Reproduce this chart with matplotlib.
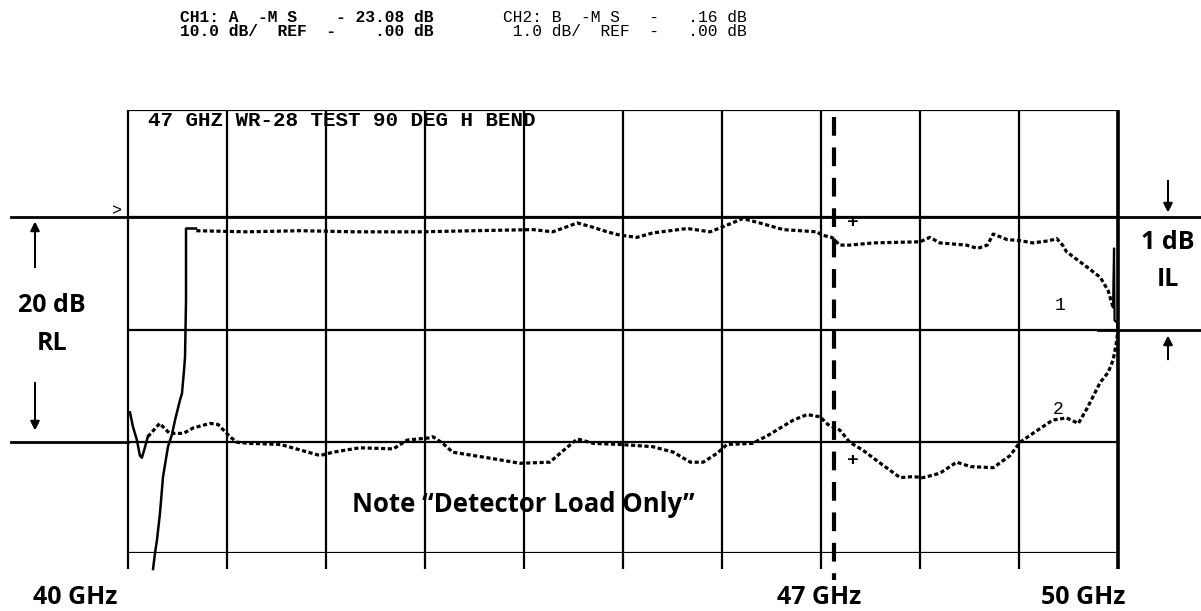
import numpy as np
import matplotlib.pyplot as plt

# frequency axis (GHz) and screen divisions counted up from the bottom graticule line
f_start = 40
f_stop = 50

# trace 1: steep rise at the band edge (solid part)
t1_rise_f = [40.253, 40.273, 40.293, 40.323, 40.354, 40.404, 40.444, 40.475,
             40.525, 40.545, 40.566, 40.576, 40.586, 40.586, 40.586, 40.687]
t1_rise_y = [-0.145, 0.00, 0.12, 0.36, 0.69, 0.96, 1.07, 1.20,
             1.38, 1.44, 1.65, 1.77, 2.28, 2.65, 2.93, 2.93]

# trace 1: insertion loss (dotted part)
t1_f = [40.69, 41.2, 41.74, 42.3, 42.95, 43.5, 44.09, 44.29, 44.54, 44.70, 44.84,
        44.97, 45.14, 45.30, 45.65, 45.88, 46.05, 46.21, 46.38, 46.62, 46.96,
        47.01, 47.11, 47.19, 47.29, 47.53, 48.00, 48.10, 48.20, 48.47, 48.58,
        48.68, 48.74, 48.88, 49.01, 49.14, 49.31, 49.38, 49.44, 49.48, 49.69,
        49.82, 49.90, 49.95]
t1_y = [2.91, 2.90, 2.91, 2.90, 2.90, 2.91, 2.92, 2.90, 2.98, 2.94, 2.90,
        2.87, 2.85, 2.89, 2.93, 2.90, 2.96, 3.02, 2.98, 2.92, 2.90,
        2.87, 2.85, 2.78, 2.78, 2.80, 2.81, 2.85, 2.80, 2.78, 2.75,
        2.78, 2.88, 2.83, 2.82, 2.80, 2.82, 2.84, 2.78, 2.72, 2.58,
        2.49, 2.37, 2.22]

# trace 1: spike at the top band edge (solid part)
t1_end_f = [49.95, 49.96, 49.965, 49.99, 50.0]
t1_end_y = [2.22, 2.75, 2.10, 2.08, 2.01]

# trace 2: low-end wiggle (solid part)
t2_start_f = [40.02, 40.05, 40.09, 40.12, 40.14, 40.17, 40.20]
t2_start_y = [1.27, 1.14, 1.02, 0.88, 0.86, 0.95, 1.05]

# trace 2: return loss (dotted part)
t2_f = [40.20, 40.32, 40.42, 40.56, 40.66, 40.83, 40.91, 41.03, 41.10, 41.23,
        41.54, 41.74, 41.94, 42.07, 42.34, 42.68, 42.82, 43.05, 43.08, 43.18,
        43.28, 43.63, 43.96, 44.26, 44.43, 44.54, 44.70, 44.97, 45.30, 45.51,
        45.68, 45.81, 45.95, 46.05, 46.31, 46.48, 46.72, 46.86, 46.99, 47.07,
        47.19, 47.29, 47.42, 47.60, 47.80, 47.93, 48.03, 48.20, 48.37, 48.51,
        48.74, 48.91, 49.01, 49.14, 49.34, 49.48, 49.60, 49.69, 49.82, 49.90,
        49.95, 49.98, 50.0]
t2_y = [1.05, 1.17, 1.08, 1.08, 1.13, 1.17, 1.16, 1.05, 1.00, 0.99,
        0.98, 0.93, 0.88, 0.91, 0.95, 0.94, 1.02, 1.04, 1.05, 0.99,
        0.91, 0.86, 0.81, 0.82, 0.95, 1.03, 0.99, 0.98, 0.96, 0.91,
        0.82, 0.82, 0.90, 0.98, 0.99, 1.07, 1.20, 1.25, 1.23, 1.16,
        1.11, 1.00, 0.93, 0.81, 0.68, 0.69, 0.68, 0.72, 0.82, 0.78,
        0.77, 0.88, 1.00, 1.08, 1.20, 1.22, 1.17, 1.31, 1.54, 1.63,
        1.74, 1.88, 2.01]

marker_f = 47.13          # dashed marker line
graticule_x = np.arange(f_start, f_stop + 1)
graticule_y = [0, 1.0, 2.01, 3.03, 4]

W, H = 1201, 611


def fx(x):
    return x / W


def fy(y):
    return 1 - y / H


fig = plt.figure(figsize=(W / 100, H / 100), dpi=100)
ax = fig.add_axes([fx(128), fy(553), 990 / W, 443 / H])
ax.set_xlim(f_start, f_stop)
ax.set_ylim(0, 4)
ax.axis('off')

# graticule
ax.vlines(graticule_x, -0.145, 4, color='black', lw=1.6, clip_on=False)
ax.vlines(f_stop, -0.145, 4, color='black', lw=2.6, clip_on=False)
ax.hlines(graticule_y, f_start, f_stop, color='black', lw=1.6)

# long reference lines outside the graticule
ax.plot([38.82, 50.83], [3.03, 3.03], color='black', lw=2, clip_on=False)
ax.plot([38.82, 40], [1.0, 1.0], color='black', lw=2, clip_on=False)
ax.plot([49.8, 50.83], [2.01, 2.01], color='black', lw=2, clip_on=False)

# dashed marker
ax.plot([marker_f, marker_f], [3.94, -0.24], color='black', lw=3,
        dashes=(4.5, 2.8), clip_on=False)

# traces
ax.plot(t1_rise_f, t1_rise_y, color='black', lw=1.8, clip_on=False)
ax.plot(t1_f, t1_y, color='black', lw=2.3, dashes=(1.3, 0.8))
ax.plot(t1_end_f, t1_end_y, color='black', lw=1.6)
ax.plot(t2_start_f, t2_start_y, color='black', lw=1.8)
ax.plot(t2_f, t2_y, color='black', lw=2.3, dashes=(1.3, 0.8))

mono = 'Liberation Mono'
sans = 'Open Sans'

# header
fig.text(fx(180), fy(17), 'CH1: A  -M S    - 23.08 dB', family=mono,
         weight='bold', fontsize=11.7, va='center')
fig.text(fx(180), fy(32), '10.0 dB/  REF  -    .00 dB', family=mono,
         weight='bold', fontsize=11.7, va='center')
fig.text(fx(503), fy(17), 'CH2: B  -M S   -   .16 dB', family=mono,
         fontsize=11.7, va='center')
fig.text(fx(503), fy(32), ' 1.0 dB/  REF  -   .00 dB', family=mono,
         fontsize=11.7, va='center')

# screen title and markers
fig.text(fx(148), fy(121), '47 GHZ WR-28 TEST 90 DEG H BEND', family=mono,
         weight='bold', fontsize=15, va='center')
fig.text(fx(112), fy(211), '>', family=mono, fontsize=12, va='center')
fig.text(fx(853), fy(222), '+', family=mono, weight='bold', fontsize=14,
         ha='center', va='center')
fig.text(fx(853), fy(460), '+', family=mono, weight='bold', fontsize=14,
         ha='center', va='center')
fig.text(fx(1060), fy(306), '1', family=mono, fontsize=13, ha='center', va='center')
fig.text(fx(1058), fy(410), '2', family=mono, fontsize=13, ha='center', va='center')

# annotations
lbl = dict(family=sans, weight='bold', fontsize=18, ha='center', va='center')
fig.text(fx(52), fy(305), '20 dB', **lbl)
fig.text(fx(52), fy(343), 'RL', **lbl)
fig.text(fx(1168), fy(242), '1 dB', **lbl)
fig.text(fx(1168), fy(279), 'IL', **lbl)
fig.text(fx(75), fy(597), '40 GHz', **lbl)
fig.text(fx(819), fy(597), '47 GHz', **lbl)
fig.text(fx(1083), fy(597), '50 GHz', **lbl)
fig.text(fx(352), fy(504), 'Note \u201cDetector Load Only\u201d', family=sans,
         weight='bold', fontsize=18.5, ha='left', va='center')

arrow = dict(arrowstyle='-|>', color='black', lw=1.4, mutation_scale=13)
for x, y0, y1 in [(35, 270, 219), (35, 380, 433), (1168, 178, 215), (1168, 362, 333)]:
    fig.add_artist(plt.annotate('', xy=(fx(x), fy(y1)), xytext=(fx(x), fy(y0)),
                                xycoords='figure fraction', textcoords='figure fraction',
                                arrowprops=arrow))

plt.savefig('out.png', dpi=100, facecolor='white')
